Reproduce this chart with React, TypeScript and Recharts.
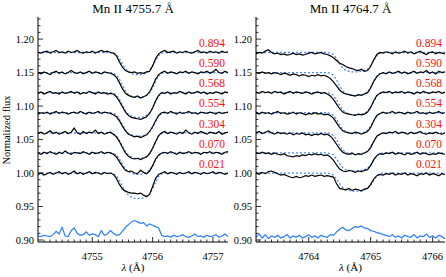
import React from "react";
import { LineChart, Line, XAxis, YAxis, ReferenceDot } from "recharts";

const SERIF = "Liberation Serif, Times New Roman, Times, DejaVu Serif, serif";

// phase labels (top to bottom) and where they sit in flux units
const phases = ["0.894", "0.590", "0.568", "0.554", "0.304", "0.070", "0.021"];
const labelY = [1.194, 1.165, 1.134, 1.104, 1.073, 1.043, 1.013];

const yMajor = [0.9, 0.95, 1.0, 1.05, 1.1, 1.15, 1.2];
const xMajorL = [4755, 4756, 4757];
const xMajorR = [4764, 4765, 4766];

// ---------- Mn II 4755.7 ----------
const waveL = [
  4754.10, 4754.15, 4754.20, 4754.25, 4754.30, 4754.35, 4754.40, 4754.45, 4754.50, 4754.55, 4754.60, 4754.65, 4754.70, 4754.75, 4754.80, 4754.85,
  4754.90, 4754.95, 4755.00, 4755.05, 4755.10, 4755.15, 4755.20, 4755.25, 4755.30, 4755.35, 4755.40, 4755.45, 4755.50, 4755.55, 4755.60, 4755.65,
  4755.70, 4755.75, 4755.80, 4755.85, 4755.90, 4755.95, 4756.00, 4756.05, 4756.10, 4756.15, 4756.20, 4756.25, 4756.30, 4756.35, 4756.40, 4756.45,
  4756.50, 4756.55, 4756.60, 4756.65, 4756.70, 4756.75, 4756.80, 4756.85, 4756.90, 4756.95, 4757.00, 4757.05, 4757.10, 4757.15, 4757.20, 4757.25,
];
const obsL894 = [
  1.180, 1.179, 1.181, 1.182, 1.179, 1.181, 1.183, 1.180, 1.181, 1.179, 1.182, 1.180, 1.181, 1.183, 1.180, 1.179,
  1.181, 1.180, 1.182, 1.179, 1.181, 1.183, 1.181, 1.182, 1.180, 1.179, 1.175, 1.166, 1.158, 1.153, 1.151, 1.150,
  1.151, 1.149, 1.150, 1.149, 1.151, 1.152, 1.160, 1.171, 1.178, 1.181, 1.183, 1.180, 1.181, 1.182, 1.179, 1.181,
  1.180, 1.182, 1.180, 1.179, 1.181, 1.183, 1.180, 1.181, 1.179, 1.182, 1.180, 1.181, 1.179, 1.182, 1.180, 1.181,
];
const obsL590 = [
  1.150, 1.148, 1.151, 1.149, 1.147, 1.150, 1.152, 1.149, 1.151, 1.148, 1.150, 1.153, 1.150, 1.149, 1.151, 1.148,
  1.150, 1.152, 1.149, 1.151, 1.150, 1.148, 1.151, 1.150, 1.149, 1.147, 1.143, 1.135, 1.126, 1.119, 1.116, 1.114,
  1.113, 1.115, 1.112, 1.114, 1.116, 1.121, 1.130, 1.140, 1.147, 1.150, 1.152, 1.149, 1.151, 1.150, 1.148, 1.151,
  1.150, 1.152, 1.149, 1.151, 1.150, 1.148, 1.151, 1.150, 1.152, 1.149, 1.151, 1.155, 1.150, 1.149, 1.152, 1.150,
];
const obsL568 = [
  1.119, 1.121, 1.118, 1.120, 1.122, 1.119, 1.120, 1.118, 1.121, 1.119, 1.120, 1.122, 1.119, 1.121, 1.118, 1.120,
  1.119, 1.122, 1.120, 1.118, 1.121, 1.119, 1.120, 1.118, 1.119, 1.118, 1.114, 1.107, 1.099, 1.091, 1.086, 1.083,
  1.082, 1.081, 1.080, 1.082, 1.084, 1.089, 1.097, 1.108, 1.116, 1.120, 1.119, 1.121, 1.118, 1.120, 1.119, 1.122,
  1.120, 1.118, 1.121, 1.119, 1.120, 1.122, 1.119, 1.121, 1.118, 1.120, 1.119, 1.121, 1.120, 1.118, 1.121, 1.120,
];
const obsL554 = [
  1.088, 1.090, 1.089, 1.091, 1.088, 1.090, 1.092, 1.089, 1.091, 1.090, 1.088, 1.090, 1.091, 1.089, 1.092, 1.090,
  1.088, 1.091, 1.089, 1.090, 1.092, 1.089, 1.091, 1.090, 1.089, 1.087, 1.084, 1.078, 1.070, 1.063, 1.058, 1.056,
  1.054, 1.055, 1.053, 1.055, 1.057, 1.062, 1.069, 1.078, 1.086, 1.090, 1.091, 1.089, 1.092, 1.090, 1.088, 1.091,
  1.089, 1.090, 1.092, 1.089, 1.090, 1.088, 1.091, 1.090, 1.089, 1.091, 1.090, 1.088, 1.091, 1.089, 1.090, 1.091,
];
const obsL304 = [
  1.059, 1.061, 1.058, 1.060, 1.063, 1.059, 1.061, 1.058, 1.060, 1.062, 1.059, 1.061, 1.067, 1.060, 1.058, 1.062,
  1.059, 1.061, 1.060, 1.064, 1.059, 1.061, 1.058, 1.060, 1.061, 1.058, 1.054, 1.047, 1.038, 1.030, 1.025, 1.022,
  1.021, 1.022, 1.020, 1.022, 1.024, 1.029, 1.037, 1.047, 1.056, 1.060, 1.062, 1.059, 1.061, 1.060, 1.058, 1.061,
  1.059, 1.064, 1.060, 1.058, 1.061, 1.059, 1.062, 1.060, 1.058, 1.061, 1.060, 1.059, 1.062, 1.058, 1.060, 1.061,
];
const obsL070 = [
  1.030, 1.028, 1.031, 1.029, 1.032, 1.030, 1.028, 1.031, 1.029, 1.033, 1.030, 1.028, 1.031, 1.030, 1.029, 1.032,
  1.030, 1.028, 1.031, 1.029, 1.030, 1.032, 1.029, 1.031, 1.030, 1.028, 1.024, 1.017, 1.010, 1.004, 1.002, 1.003,
  1.000, 0.999, 1.004, 1.001, 0.999, 1.003, 1.011, 1.021, 1.027, 1.030, 1.031, 1.029, 1.032, 1.030, 1.028, 1.031,
  1.029, 1.030, 1.032, 1.029, 1.031, 1.030, 1.028, 1.031, 1.030, 1.032, 1.029, 1.031, 1.030, 1.028, 1.031, 1.032,
];
const obsL021 = [
  0.998, 1.000, 0.997, 0.999, 1.001, 0.998, 1.000, 1.002, 0.999, 1.001, 0.998, 1.000, 1.003, 0.999, 1.001, 0.998,
  1.000, 1.002, 0.999, 1.001, 1.000, 0.998, 1.001, 0.999, 1.000, 0.998, 0.992, 0.983, 0.976, 0.973, 0.971, 0.970,
  0.970, 0.969, 0.970, 0.967, 0.965, 0.968, 0.980, 0.992, 0.998, 1.000, 1.002, 0.999, 1.001, 1.000, 0.998, 1.001,
  0.999, 1.000, 1.002, 0.999, 1.001, 1.000, 0.998, 1.001, 0.999, 1.000, 1.002, 0.999, 1.001, 1.000, 0.998, 1.000,
];
const resL = [
  0.906, 0.905, 0.907, 0.906, 0.905, 0.908, 0.913, 0.909, 0.919, 0.906, 0.905, 0.914, 0.918, 0.910, 0.907, 0.908,
  0.912, 0.907, 0.909, 0.908, 0.905, 0.914, 0.907, 0.909, 0.914, 0.910, 0.907, 0.908, 0.913, 0.919, 0.923, 0.927,
  0.929, 0.927, 0.925, 0.926, 0.921, 0.924, 0.922, 0.920, 0.918, 0.907, 0.905, 0.906, 0.904, 0.907, 0.905, 0.906,
  0.908, 0.905, 0.904, 0.906, 0.909, 0.905, 0.906, 0.904, 0.907, 0.905, 0.906, 0.908, 0.904, 0.906, 0.909, 0.905,
];
// model profiles (dashed), sampled only where they change
const modWaveL = [
  4754.10, 4755.30, 4755.35, 4755.40, 4755.45, 4755.50, 4755.55, 4755.60, 4755.65, 4755.70, 4755.75,
  4755.80, 4755.85, 4755.90, 4755.95, 4756.00, 4756.05, 4756.10, 4756.15, 4756.20, 4757.25,
];
const modL894 = [1.180, 1.180, 1.179, 1.177, 1.171, 1.163, 1.156, 1.151, 1.149, 1.147, 1.147, 1.147, 1.148, 1.149, 1.153, 1.160, 1.168, 1.175, 1.179, 1.180, 1.180];
const modL590 = [1.150, 1.150, 1.149, 1.146, 1.140, 1.131, 1.123, 1.117, 1.115, 1.113, 1.113, 1.113, 1.114, 1.116, 1.120, 1.127, 1.137, 1.145, 1.149, 1.150, 1.150];
const modL568 = [1.120, 1.120, 1.119, 1.116, 1.110, 1.101, 1.093, 1.087, 1.085, 1.083, 1.083, 1.083, 1.084, 1.086, 1.090, 1.097, 1.107, 1.115, 1.119, 1.120, 1.120];
const modL554 = [1.090, 1.090, 1.089, 1.087, 1.080, 1.072, 1.064, 1.059, 1.057, 1.055, 1.055, 1.055, 1.056, 1.057, 1.061, 1.068, 1.077, 1.085, 1.089, 1.090, 1.090];
const modL304 = [1.060, 1.060, 1.059, 1.056, 1.049, 1.040, 1.032, 1.027, 1.024, 1.022, 1.022, 1.022, 1.023, 1.025, 1.029, 1.036, 1.046, 1.055, 1.059, 1.060, 1.060];
const modL070 = [1.030, 1.030, 1.029, 1.027, 1.021, 1.013, 1.006, 1.002, 1.000, 0.998, 0.998, 0.998, 0.999, 1.000, 1.004, 1.010, 1.019, 1.026, 1.029, 1.030, 1.030];
const modL021 = [1.000, 1.000, 0.999, 0.996, 0.989, 0.980, 0.972, 0.967, 0.964, 0.962, 0.962, 0.962, 0.963, 0.965, 0.969, 0.976, 0.986, 0.995, 0.999, 1.000, 1.000];

// ---------- Mn II 4764.7 ----------
const waveR = [
  4763.15, 4763.20, 4763.25, 4763.30, 4763.35, 4763.40, 4763.45, 4763.50, 4763.55, 4763.60, 4763.65, 4763.70, 4763.75, 4763.80, 4763.85, 4763.90,
  4763.95, 4764.00, 4764.05, 4764.10, 4764.15, 4764.20, 4764.25, 4764.30, 4764.35, 4764.40, 4764.45, 4764.50, 4764.55, 4764.60, 4764.65, 4764.70,
  4764.75, 4764.80, 4764.85, 4764.90, 4764.95, 4765.00, 4765.05, 4765.10, 4765.15, 4765.20, 4765.25, 4765.30, 4765.35, 4765.40, 4765.45, 4765.50,
  4765.55, 4765.60, 4765.65, 4765.70, 4765.75, 4765.80, 4765.85, 4765.90, 4765.95, 4766.00, 4766.05, 4766.10, 4766.15, 4766.20,
];
const obsR894 = [
  1.178, 1.180, 1.179, 1.182, 1.184, 1.180, 1.178, 1.179, 1.177, 1.178, 1.176, 1.177, 1.179, 1.177, 1.178, 1.176,
  1.177, 1.179, 1.180, 1.178, 1.179, 1.180, 1.178, 1.177, 1.175, 1.172, 1.168, 1.164, 1.162, 1.159, 1.157, 1.156,
  1.154, 1.153, 1.155, 1.152, 1.153, 1.159, 1.169, 1.177, 1.180, 1.179, 1.181, 1.180, 1.178, 1.181, 1.179, 1.180,
  1.182, 1.179, 1.181, 1.178, 1.180, 1.182, 1.179, 1.177, 1.180, 1.181, 1.178, 1.180, 1.179, 1.178,
];
const obsR590 = [
  1.150, 1.149, 1.151, 1.149, 1.150, 1.148, 1.150, 1.149, 1.147, 1.149, 1.148, 1.146, 1.148, 1.147, 1.145, 1.147,
  1.146, 1.144, 1.146, 1.145, 1.147, 1.145, 1.146, 1.144, 1.141, 1.136, 1.130, 1.124, 1.120, 1.118, 1.117, 1.116,
  1.115, 1.117, 1.116, 1.118, 1.120, 1.127, 1.137, 1.144, 1.148, 1.150, 1.148, 1.151, 1.149, 1.150, 1.152, 1.149,
  1.151, 1.148, 1.150, 1.152, 1.149, 1.151, 1.150, 1.153, 1.149, 1.151, 1.148, 1.152, 1.150, 1.151,
];
const obsR568 = [
  1.121, 1.119, 1.122, 1.120, 1.121, 1.119, 1.122, 1.120, 1.121, 1.118, 1.120, 1.122, 1.119, 1.121, 1.120, 1.119,
  1.121, 1.120, 1.118, 1.120, 1.121, 1.119, 1.120, 1.118, 1.115, 1.110, 1.103, 1.096, 1.091, 1.089, 1.088, 1.087,
  1.086, 1.088, 1.087, 1.088, 1.091, 1.098, 1.108, 1.116, 1.119, 1.121, 1.120, 1.122, 1.119, 1.121, 1.120, 1.122,
  1.119, 1.121, 1.120, 1.118, 1.121, 1.119, 1.122, 1.120, 1.119, 1.121, 1.120, 1.122, 1.119, 1.121,
];
const obsR554 = [
  1.090, 1.088, 1.091, 1.089, 1.090, 1.088, 1.090, 1.092, 1.089, 1.090, 1.088, 1.089, 1.091, 1.088, 1.090, 1.089,
  1.087, 1.089, 1.088, 1.090, 1.088, 1.089, 1.087, 1.088, 1.086, 1.082, 1.075, 1.068, 1.063, 1.061, 1.060, 1.059,
  1.061, 1.060, 1.058, 1.060, 1.062, 1.068, 1.078, 1.086, 1.089, 1.091, 1.089, 1.090, 1.092, 1.089, 1.091, 1.090,
  1.088, 1.091, 1.089, 1.090, 1.092, 1.089, 1.090, 1.088, 1.091, 1.089, 1.090, 1.092, 1.089, 1.090,
];
const obsR304 = [
  1.060, 1.062, 1.059, 1.061, 1.063, 1.060, 1.058, 1.061, 1.059, 1.060, 1.058, 1.060, 1.057, 1.059, 1.058, 1.060,
  1.057, 1.058, 1.056, 1.058, 1.057, 1.059, 1.057, 1.058, 1.055, 1.050, 1.043, 1.036, 1.031, 1.029, 1.028, 1.030,
  1.027, 1.029, 1.028, 1.030, 1.032, 1.038, 1.047, 1.055, 1.058, 1.060, 1.059, 1.061, 1.060, 1.062, 1.059, 1.061,
  1.060, 1.058, 1.061, 1.059, 1.060, 1.062, 1.059, 1.058, 1.060, 1.059, 1.061, 1.059, 1.058, 1.060,
];
const obsR070 = [
  1.030, 1.029, 1.031, 1.029, 1.030, 1.028, 1.030, 1.028, 1.027, 1.029, 1.026, 1.025, 1.024, 1.026, 1.025, 1.027,
  1.026, 1.028, 1.027, 1.029, 1.027, 1.028, 1.026, 1.027, 1.024, 1.019, 1.012, 1.006, 1.003, 1.002, 1.004, 1.003,
  1.001, 1.003, 1.002, 1.004, 1.005, 1.011, 1.020, 1.026, 1.029, 1.028, 1.030, 1.029, 1.031, 1.028, 1.030, 1.029,
  1.027, 1.030, 1.028, 1.029, 1.031, 1.028, 1.030, 1.029, 1.027, 1.029, 1.028, 1.030, 1.029, 1.028,
];
const obsR021 = [
  1.000, 0.998, 1.001, 0.999, 1.002, 1.003, 1.001, 0.999, 0.997, 0.998, 0.996, 0.994, 0.993, 0.995, 0.993, 0.994,
  0.996, 0.995, 0.997, 0.995, 0.996, 0.997, 0.995, 0.996, 0.995, 0.994, 0.984, 0.977, 0.976, 0.975, 0.977, 0.974,
  0.976, 0.975, 0.973, 0.976, 0.977, 0.983, 0.991, 0.996, 0.998, 0.997, 0.999, 0.998, 1.000, 0.997, 0.999, 0.998,
  1.000, 0.997, 0.999, 0.998, 0.996, 0.999, 0.998, 1.000, 0.997, 0.999, 0.998, 0.996, 0.999, 0.998,
];
const resR = [
  0.904, 0.909, 0.903, 0.908, 0.902, 0.906, 0.904, 0.907, 0.903, 0.905, 0.908, 0.903, 0.906, 0.904, 0.907, 0.903,
  0.905, 0.908, 0.904, 0.906, 0.903, 0.907, 0.905, 0.904, 0.908, 0.907, 0.912, 0.916, 0.919, 0.915, 0.914, 0.917,
  0.920, 0.919, 0.921, 0.918, 0.917, 0.914, 0.913, 0.911, 0.910, 0.908, 0.907, 0.905, 0.908, 0.904, 0.906, 0.903,
  0.907, 0.905, 0.904, 0.908, 0.903, 0.906, 0.905, 0.909, 0.904, 0.906, 0.903, 0.907, 0.905, 0.902,
];
const modWaveR = [
  4763.15, 4764.30, 4764.35, 4764.40, 4764.45, 4764.50, 4764.55, 4764.60, 4764.65, 4764.70, 4764.75,
  4764.80, 4764.85, 4764.90, 4764.95, 4765.00, 4765.05, 4765.10, 4765.15, 4765.20, 4766.20,
];
const modR894 = [1.180, 1.180, 1.179, 1.177, 1.171, 1.163, 1.157, 1.153, 1.152, 1.151, 1.151, 1.151, 1.152, 1.153, 1.155, 1.161, 1.168, 1.175, 1.179, 1.180, 1.180];
const modR590 = [1.150, 1.150, 1.149, 1.146, 1.139, 1.130, 1.123, 1.119, 1.117, 1.116, 1.116, 1.116, 1.117, 1.118, 1.121, 1.128, 1.136, 1.145, 1.149, 1.150, 1.150];
const modR568 = [1.120, 1.120, 1.119, 1.116, 1.109, 1.101, 1.094, 1.090, 1.088, 1.087, 1.087, 1.087, 1.088, 1.089, 1.092, 1.098, 1.107, 1.115, 1.119, 1.120, 1.120];
const modR554 = [1.090, 1.090, 1.089, 1.086, 1.080, 1.072, 1.065, 1.062, 1.060, 1.059, 1.059, 1.059, 1.060, 1.061, 1.064, 1.070, 1.078, 1.085, 1.089, 1.090, 1.090];
const modR304 = [1.060, 1.060, 1.059, 1.056, 1.050, 1.041, 1.034, 1.031, 1.029, 1.028, 1.028, 1.028, 1.029, 1.030, 1.033, 1.039, 1.047, 1.055, 1.059, 1.060, 1.060];
const modR070 = [1.030, 1.030, 1.029, 1.027, 1.021, 1.014, 1.008, 1.005, 1.004, 1.003, 1.003, 1.003, 1.004, 1.005, 1.007, 1.012, 1.019, 1.026, 1.029, 1.030, 1.030];
const modR021 = [1.000, 1.000, 0.999, 0.997, 0.991, 0.984, 0.978, 0.975, 0.974, 0.973, 0.973, 0.973, 0.974, 0.975, 0.977, 0.982, 0.989, 0.996, 0.999, 1.000, 1.000];

// minor tick positions
function steps(a: number, b: number, step: number) {
  const out: number[] = [];
  for (let v = a; v <= b + 1e-9; v += step) out.push(Math.round(v * 1000) / 1000);
  return out;
}
const yTicks = steps(0.9, 1.23, 0.01);
const xTicksL = steps(4754.2, 4757.2, 0.1);
const xTicksR = steps(4763.2, 4766.1, 0.1);

const isMajor = (v: number, majors: number[]) => majors.some((m) => Math.abs(m - v) < 1e-6);

const tickText = { fontSize: 10.5, fill: "#000", style: { fontFamily: SERIF } };

function BottomTick(props: any) {
  const { x, y, payload, majors } = props;
  const big = isMajor(payload.value, majors);
  return (
    <g>
      <line x1={x} x2={x} y1={y} y2={y - (big ? 5 : 2.5)} stroke="#000" strokeWidth={0.8} />
      {big && (
        <text x={x} y={y + 18} textAnchor="middle" {...tickText}>
          {payload.value}
        </text>
      )}
    </g>
  );
}

function TopTick(props: any) {
  const { x, y, payload, majors } = props;
  const big = isMajor(payload.value, majors);
  return <line x1={x} x2={x} y1={y} y2={y + (big ? 5 : 2.5)} stroke="#000" strokeWidth={0.8} />;
}

function LeftTick(props: any) {
  const { x, y, payload } = props;
  const big = isMajor(payload.value, yMajor);
  return (
    <g>
      <line x1={x} x2={x + (big ? 5 : 2.5)} y1={y} y2={y} stroke="#000" strokeWidth={0.8} />
      {big && (
        <text x={x - 4} y={y} dy="0.35em" textAnchor="end" {...tickText}>
          {payload.value.toFixed(2)}
        </text>
      )}
    </g>
  );
}

function RightTick(props: any) {
  const { x, y, payload } = props;
  const big = isMajor(payload.value, yMajor);
  return <line x1={x} x2={x - (big ? 5 : 2.5)} y1={y} y2={y} stroke="#000" strokeWidth={0.8} />;
}

function PhaseLabel(props: any) {
  const { viewBox, value } = props;
  return (
    <text x={viewBox.x} y={viewBox.y} dy="0.35em" textAnchor="end" fill="#ff1010" fontSize={11.5} style={{ fontFamily: SERIF }}>
      {value}
    </text>
  );
}

type PanelProps = {
  pos: number;
  width: number;
  mr: number;
  wave: number[];
  obs: number[][];
  res: number[];
  modWave: number[];
  mods: number[][];
  domain: [number, number];
  xTicks: number[];
  xMajor: number[];
  labelAt: number;
};

function Panel(p: PanelProps) {
  const rows = p.wave.map((w, i) => {
    const row: Record<string, number | null> = { w, res: p.res[i] };
    const j = p.modWave.findIndex((m) => Math.abs(m - w) < 1e-6);
    p.obs.forEach((o, k) => {
      row["o" + k] = o[i];
      row["m" + k] = j >= 0 ? p.mods[k][j] : null;
    });
    return row;
  });
  const yDomain: [number, number] = [0.897, 1.233];
  const axisLine = { stroke: "#000", strokeWidth: 1 };

  return (
    <div style={{ position: "absolute", left: p.pos, top: 0 }}>
      <LineChart width={p.width} height={277} data={rows} margin={{ top: 17, right: p.mr, bottom: 5, left: 0 }}>
        <XAxis
          xAxisId="b"
          dataKey="w"
          type="number"
          domain={p.domain}
          allowDataOverflow
          ticks={p.xTicks}
          interval={0}
          height={30}
          tickSize={0}
          tickMargin={0}
          tickLine={false}
          axisLine={axisLine}
          tick={(t: any) => <BottomTick {...t} majors={p.xMajor} />}
        />
        <XAxis
          xAxisId="t"
          orientation="top"
          dataKey="w"
          type="number"
          domain={p.domain}
          allowDataOverflow
          ticks={p.xTicks}
          interval={0}
          height={0}
          tickSize={0}
          tickMargin={0}
          tickLine={false}
          axisLine={axisLine}
          tick={(t: any) => <TopTick {...t} majors={p.xMajor} />}
        />
        <YAxis
          yAxisId="l"
          type="number"
          domain={yDomain}
          allowDataOverflow
          ticks={yTicks}
          interval={0}
          width={38}
          tickSize={0}
          tickMargin={0}
          tickLine={false}
          axisLine={axisLine}
          tick={(t: any) => <LeftTick {...t} />}
        />
        <YAxis
          yAxisId="r"
          orientation="right"
          type="number"
          domain={yDomain}
          allowDataOverflow
          ticks={yTicks}
          interval={0}
          width={0}
          tickSize={0}
          tickMargin={0}
          tickLine={false}
          axisLine={axisLine}
          tick={(t: any) => <RightTick {...t} />}
        />

        {p.obs.map((_, k) => (
          <Line
            key={"m" + k}
            xAxisId="b"
            yAxisId="l"
            dataKey={"m" + k}
            type="linear"
            stroke="#4a8cf5"
            strokeWidth={1.3}
            strokeDasharray="2 2"
            dot={false}
            activeDot={false}
            connectNulls
            isAnimationActive={false}
          />
        ))}
        {p.obs.map((_, k) => (
          <Line
            key={"o" + k}
            xAxisId="b"
            yAxisId="l"
            dataKey={"o" + k}
            type="linear"
            stroke="#000"
            strokeWidth={1.2}
            dot={false}
            activeDot={false}
            isAnimationActive={false}
          />
        ))}
        <Line
          xAxisId="t"
          yAxisId="r"
          dataKey="res"
          type="linear"
          stroke="#2a7dff"
          strokeWidth={1.2}
          dot={false}
          activeDot={false}
          isAnimationActive={false}
        />

        {phases.map((ph, k) => (
          <ReferenceDot
            key={ph}
            xAxisId="b"
            yAxisId="l"
            x={p.labelAt}
            y={labelY[k]}
            r={0}
            fill="none"
            stroke="none"
            label={<PhaseLabel value={ph} />}
          />
        ))}
      </LineChart>
    </div>
  );
}

export default function App() {
  const txt = { fill: "#000", style: { fontFamily: SERIF } };
  return (
    <div style={{ position: "absolute", left: 0, top: 0, width: 446, height: 277, background: "#fff", fontFamily: SERIF }}>
      <Panel
        pos={0}
        width={232}
        mr={4}
        wave={waveL}
        obs={[obsL894, obsL590, obsL568, obsL554, obsL304, obsL070, obsL021]}
        res={resL}
        modWave={modWaveL}
        mods={[modL894, modL590, modL568, modL554, modL304, modL070, modL021]}
        domain={[4754.1, 4757.25]}
        xTicks={xTicksL}
        xMajor={xMajorL}
        labelAt={4757.2}
      />
      <Panel
        pos={218}
        width={228}
        mr={1}
        wave={waveR}
        obs={[obsR894, obsR590, obsR568, obsR554, obsR304, obsR070, obsR021]}
        res={resR}
        modWave={modWaveR}
        mods={[modR894, modR590, modR568, modR554, modR304, modR070, modR021]}
        domain={[4763.15, 4766.2]}
        xTicks={xTicksR}
        xMajor={xMajorR}
        labelAt={4766.15}
      />
      <svg width={446} height={277} style={{ position: "absolute", left: 0, top: 0, pointerEvents: "none" }}>
        <text x={133} y={12.7} textAnchor="middle" fontSize={13} {...txt}>
          Mn II 4755.7 Å
        </text>
        <text x={350.5} y={12.7} textAnchor="middle" fontSize={13} {...txt}>
          Mn II 4764.7 Å
        </text>
        <text x={10} y={130} textAnchor="middle" fontSize={10.5} transform="rotate(-90 10 130)" {...txt}>
          Normalized flux
        </text>
        <text x={133} y={271} textAnchor="middle" fontSize={11} {...txt}>
          <tspan fontStyle="italic">λ</tspan> (Å)
        </text>
        <text x={350.5} y={271} textAnchor="middle" fontSize={11} {...txt}>
          <tspan fontStyle="italic">λ</tspan> (Å)
        </text>
      </svg>
    </div>
  );
}
